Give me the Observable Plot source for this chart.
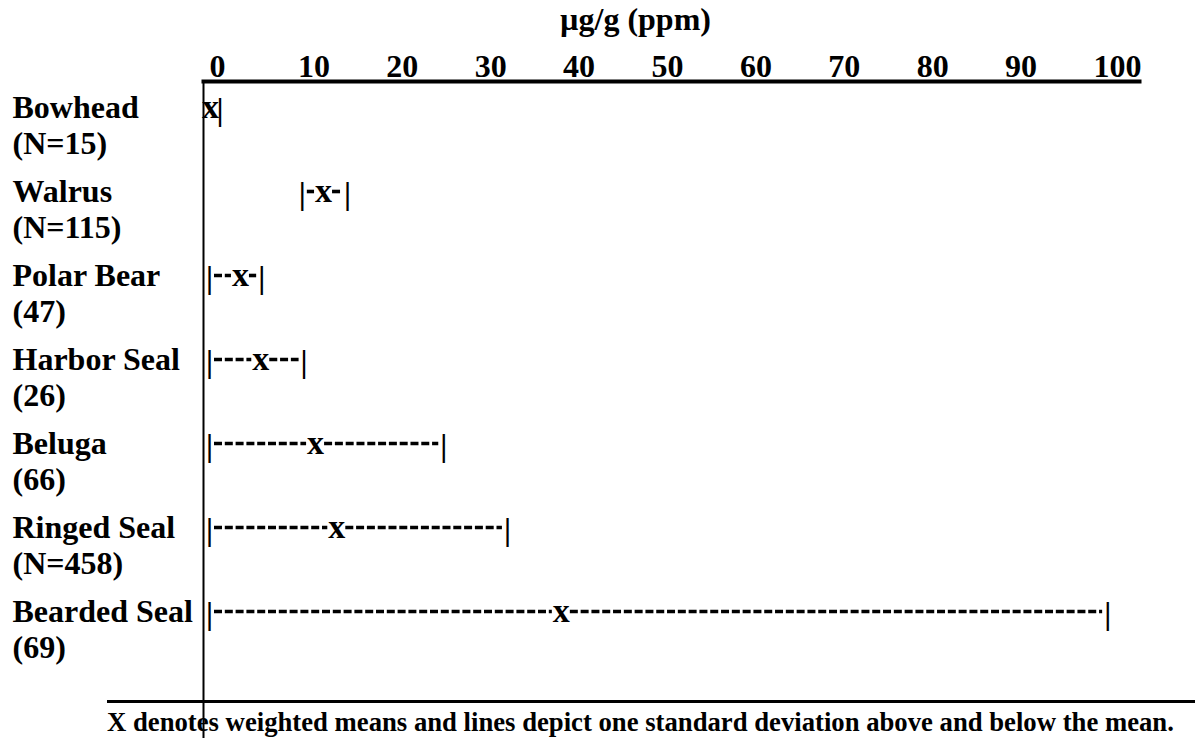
<!DOCTYPE html>
<html>
<head>
<meta charset="utf-8">
<script src="https://cdn.jsdelivr.net/npm/d3@7"></script>
<script src="https://cdn.jsdelivr.net/npm/@observablehq/plot@0.6"></script>
<style>
  body { margin: 0; background: #fff; }
  #chart { position: relative; width: 1195px; height: 738px; font-family: "Liberation Serif", "Times New Roman", serif; }
  #caption { position: absolute; left: 107px; top: 700px; width: 1088px; border-top: 3px solid #000;
             font-weight: bold; font-size: 26.7px; line-height: 1; padding-top: 6px; color: #000; white-space: nowrap; }
</style>
</head>
<body>
<div id="chart"></div>
<script>
// ---- data ----
const species = ["Bowhead", "Walrus", "Polar Bear", "Harbor Seal", "Beluga", "Ringed Seal", "Bearded Seal"];
const sampleLabels = ["(N=15)", "(N=115)", "(47)", "(26)", "(66)", "(N=458)", "(69)"];
const lowValues  = [null, 10.5, 0, 0, 0, 0, 0];            // mean - 1 SD (null: below zero, not shown)
const meanValues = [0.1, 12.9, 3.5, 5.8, 12.0, 14.4, 39.8];  // weighted means, µg/g
const highValues = [1.2, 15.6, 5.9, 10.7, 26.5, 33.7, 101.6]; // mean + 1 SD
const xTicks = [0, 10, 20, 30, 40, 50, 60, 70, 80, 90, 100];
const xLabel = "µg/g (ppm)";
const captionText = "X denotes weighted means and lines depict one standard deviation above and below the mean.";

const rows = species.map((s, i) => ({
  species: s, n: sampleLabels[i], low: lowValues[i], mean: meanValues[i], high: highValues[i]
}));

const FS = 32;
const font = {fontSize: FS, fontWeight: "bold", fill: "#000"};
const dash = {strokeWidth: 3.6, stroke: "#000", strokeDasharray: "8,2.8", dy: -10};

const chart = Plot.plot({
  width: 1195,
  height: 738,
  marginTop: 81,
  marginBottom: 0,
  marginLeft: 203,
  marginRight: 56,
  style: {fontFamily: "'Liberation Serif', 'Times New Roman', serif", background: "#fff", color: "#000", overflow: "visible"},
  x: {domain: [0, 100], range: [209, 1093], axis: null},
  y: {type: "point", domain: species, range: [115, 623], padding: 0, axis: null},
  marks: [
    Plot.frame({anchor: "top", stroke: "#000", strokeWidth: 4}),
    Plot.frame({anchor: "left", stroke: "#000", strokeWidth: 2}),
    Plot.axisX(xTicks, {anchor: "top", tickSize: 0, tickPadding: 5, textAnchor: "start", label: null, ...font}),
    Plot.text([xLabel], {frameAnchor: "top", text: d => d, dx: -36, dy: -52, lineAnchor: "bottom", ...font}),
    // species names and sample sizes
    Plot.text(rows, {y: "species", text: "species", frameAnchor: "left", dx: -191, textAnchor: "start", lineAnchor: "bottom", ...font}),
    Plot.text(rows, {y: "species", text: "n", frameAnchor: "left", dx: -191, dy: 36, textAnchor: "start", lineAnchor: "bottom", ...font}),
    // dashed SD lines
    Plot.ruleY(rows.filter(d => d.low != null && d.mean - d.low > 1.5), {y: "species", x1: "low", x2: "mean", insetLeft: 5, insetRight: 9, ...dash}),
    Plot.ruleY(rows.filter(d => d.high - d.mean > 1.5), {y: "species", x1: "mean", x2: "high", insetLeft: 9, insetRight: 5, ...dash}),
    // end bars and means
    Plot.text(rows.filter(d => d.low != null), {x: "low", y: "species", text: () => "|", lineAnchor: "bottom", ...font, dy: 2}),
    Plot.text(rows, {x: "high", y: "species", text: () => "|", lineAnchor: "bottom", ...font, dy: 2}),
    Plot.text(rows, {x: "mean", y: "species", text: () => "x", lineAnchor: "bottom", ...font, fontSize: 34})
  ]
});

const container = document.getElementById("chart");
container.appendChild(chart);
const cap = document.createElement("div");
cap.id = "caption";
cap.textContent = captionText;
container.appendChild(cap);
</script>
</body>
</html>
